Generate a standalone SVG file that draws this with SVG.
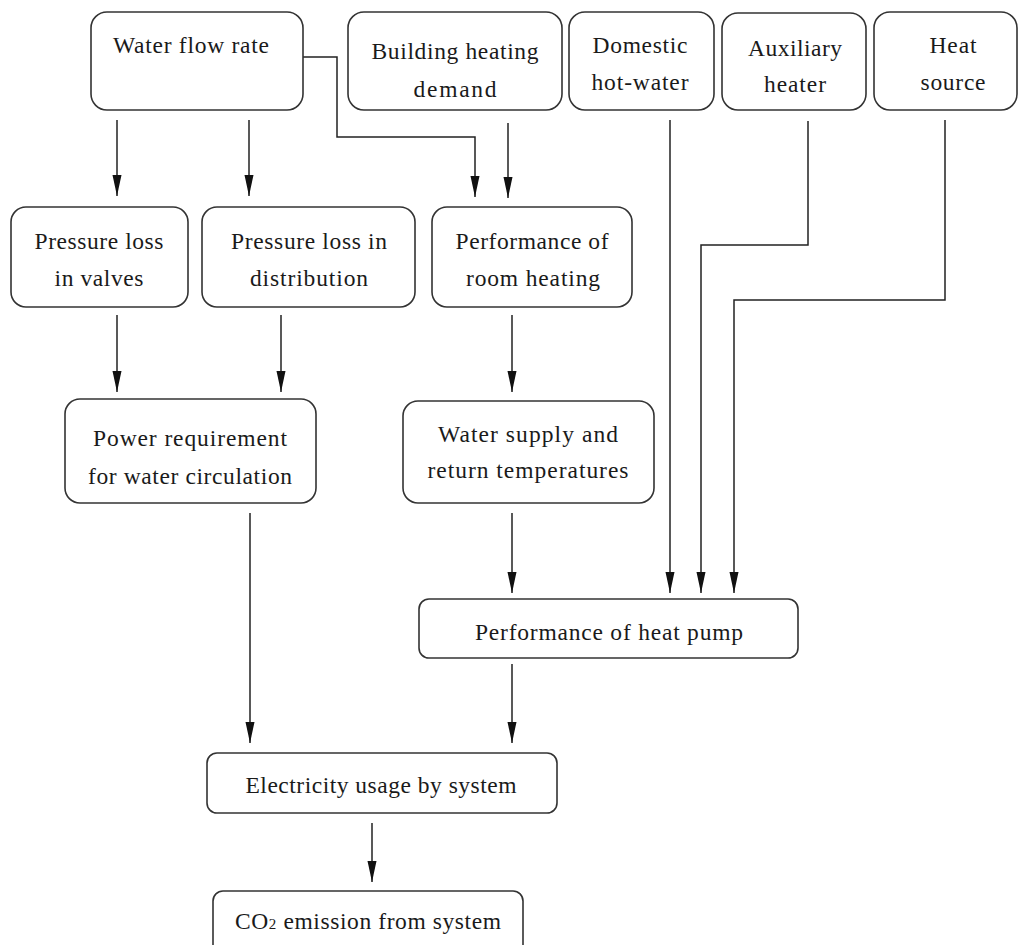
<svg xmlns="http://www.w3.org/2000/svg" width="1021" height="945" viewBox="0 0 1021 945">
<style>
.box{fill:#fff;stroke:#333;stroke-width:1.6}
.t{font-family:"Liberation Serif","Times New Roman",serif;font-size:23.5px;fill:#1a1a1a;text-anchor:middle}
.c{fill:none;stroke:#222;stroke-width:1.5}
</style>
<defs>
<marker id="ah" markerUnits="userSpaceOnUse" markerWidth="22" markerHeight="10" refX="21" refY="4.5" orient="auto" viewBox="0 0 22 9" overflow="visible">
<path d="M0,0 L21,4.5 L0,9 Z" fill="#111"/>
</marker>
</defs>
<rect width="1021" height="945" fill="#fff"/>

<g id="connectors">
<path class="c" d="M117,120 V196" marker-end="url(#ah)"/>
<path class="c" d="M249,120 V196" marker-end="url(#ah)"/>
<path class="c" d="M303,57 H337 V137 H475 V197" marker-end="url(#ah)"/>
<path class="c" d="M508,123 V198" marker-end="url(#ah)"/>
<path class="c" d="M670,120 V593" marker-end="url(#ah)"/>
<path class="c" d="M808,121 V245 H701 V593" marker-end="url(#ah)"/>
<path class="c" d="M945,120 V300 H734 V593" marker-end="url(#ah)"/>
<path class="c" d="M117,315 V392" marker-end="url(#ah)"/>
<path class="c" d="M281,315 V392" marker-end="url(#ah)"/>
<path class="c" d="M512,315 V392" marker-end="url(#ah)"/>
<path class="c" d="M250,513 V743" marker-end="url(#ah)"/>
<path class="c" d="M512,513 V593" marker-end="url(#ah)"/>
<path class="c" d="M512,664 V743" marker-end="url(#ah)"/>
<path class="c" d="M372,823 V882" marker-end="url(#ah)"/>
</g>

<g id="water-flow-rate">
<rect class="box" x="91" y="12" width="212" height="98" rx="16"/>
<text class="t" x="191" y="53" textLength="156" lengthAdjust="spacing">Water flow rate</text>
</g>
<g id="building-heating-demand">
<rect class="box" x="348" y="12" width="214" height="98" rx="16"/>
<text class="t" x="455" y="59" textLength="167" lengthAdjust="spacing">Building heating</text>
<text class="t" x="455" y="97" textLength="83" lengthAdjust="spacing">demand</text>
</g>
<g id="domestic-hot-water">
<rect class="box" x="569" y="12" width="145" height="98" rx="16"/>
<text class="t" x="640" y="53" textLength="95" lengthAdjust="spacing">Domestic</text>
<text class="t" x="640" y="90" textLength="97" lengthAdjust="spacing">hot-water</text>
</g>
<g id="auxiliary-heater">
<rect class="box" x="722" y="13" width="144" height="97" rx="16"/>
<text class="t" x="795" y="56" textLength="94" lengthAdjust="spacing">Auxiliary</text>
<text class="t" x="795" y="92" textLength="62" lengthAdjust="spacing">heater</text>
</g>
<g id="heat-source">
<rect class="box" x="874" y="12" width="143" height="98" rx="16"/>
<text class="t" x="953" y="53" textLength="47" lengthAdjust="spacing">Heat</text>
<text class="t" x="953" y="90" textLength="65" lengthAdjust="spacing">source</text>
</g>

<g id="pressure-loss-valves">
<rect class="box" x="11" y="207" width="177" height="100" rx="15"/>
<text class="t" x="99" y="249" textLength="129" lengthAdjust="spacing">Pressure loss</text>
<text class="t" x="99" y="286" textLength="89" lengthAdjust="spacing">in valves</text>
</g>
<g id="pressure-loss-distribution">
<rect class="box" x="202" y="207" width="213" height="100" rx="15"/>
<text class="t" x="309" y="249" textLength="156" lengthAdjust="spacing">Pressure loss in</text>
<text class="t" x="309" y="286" textLength="118" lengthAdjust="spacing">distribution</text>
</g>
<g id="performance-room-heating">
<rect class="box" x="432" y="207" width="200" height="100" rx="15"/>
<text class="t" x="532" y="249" textLength="153" lengthAdjust="spacing">Performance of</text>
<text class="t" x="533" y="286" textLength="134" lengthAdjust="spacing">room heating</text>
</g>

<g id="power-requirement">
<rect class="box" x="65" y="399" width="251" height="104" rx="15"/>
<text class="t" x="190" y="446" textLength="194" lengthAdjust="spacing">Power requirement</text>
<text class="t" x="190" y="484" textLength="204" lengthAdjust="spacing">for water circulation</text>
</g>
<g id="water-supply-return">
<rect class="box" x="403" y="401" width="251" height="102" rx="15"/>
<text class="t" x="528" y="442" textLength="180" lengthAdjust="spacing">Water supply and</text>
<text class="t" x="528" y="478" textLength="201" lengthAdjust="spacing">return temperatures</text>
</g>

<g id="performance-heat-pump">
<rect class="box" x="419" y="599" width="379" height="59" rx="10"/>
<text class="t" x="609" y="640" textLength="268" lengthAdjust="spacing">Performance of heat pump</text>
</g>
<g id="electricity-usage">
<rect class="box" x="207" y="753" width="350" height="60" rx="10"/>
<text class="t" x="381" y="793" textLength="271" lengthAdjust="spacing">Electricity usage by system</text>
</g>
<g id="co2-emission">
<rect class="box" x="213" y="891" width="310" height="70" rx="10"/>
<text class="t" x="368" y="929" textLength="266" lengthAdjust="spacing">CO<tspan font-size="15">2</tspan> emission from system</text>
</g>
</svg>
